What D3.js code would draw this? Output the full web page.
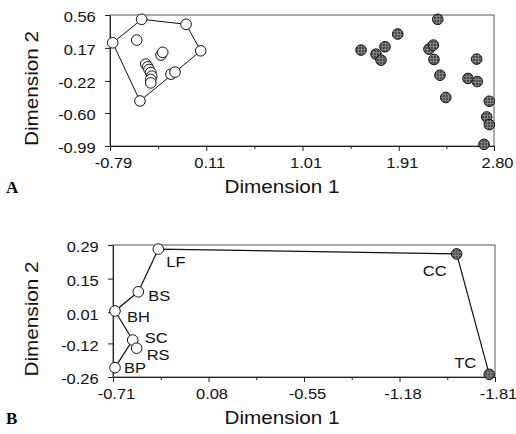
<!DOCTYPE html>
<html>
<head>
<meta charset="utf-8">
<script src="https://cdn.jsdelivr.net/npm/d3@7"></script>
<style>
  body { margin: 0; background: #fff; }
  svg { display: block; }
  .tick text { font-family: "Liberation Sans", Arial, sans-serif; font-size: 15px; fill: #111; }
  .domain { stroke: #222; }
  .tick line { stroke: #222; }
</style>
</head>
<body>
<div id="chart"></div>
<script>
// Panel A: two groups of points (open = clustered group, filled = second group)
const openA = [
  [-0.765, 0.231], [-0.494, 0.509], [-0.079, 0.450], [0.058, 0.136],
  [-0.220, -0.140], [-0.182, -0.116], [-0.510, -0.457], [-0.540, 0.263],
  [-0.313, 0.086], [-0.297, 0.118],
  [-0.456, -0.021], [-0.437, -0.053], [-0.425, -0.084], [-0.409, -0.120],
  [-0.400, -0.164], [-0.409, -0.203], [-0.409, -0.243]
];
const filledA = [
  [2.274, 0.509], [1.900, 0.335], [1.557, 0.145], [1.697, 0.097],
  [1.781, 0.184], [1.744, 0.026], [2.192, 0.157], [2.233, 0.204],
  [2.239, 0.034], [2.295, -0.152], [2.349, -0.416], [2.638, 0.038],
  [2.557, -0.191], [2.644, -0.227], [2.756, -0.460], [2.732, -0.646],
  [2.756, -0.737], [2.707, -0.970]
];
const dim1TicksA = [-0.79, 0.11, 1.01, 1.91, 2.80];
const dim1LabelsA = ["-0.79", "0.11", "1.01", "1.91", "2.80"];
const dim2TicksA = [-0.99, -0.60, -0.22, 0.17, 0.56];
const dim2LabelsA = ["-0.99", "-0.60", "-0.22", "0.17", "0.56"];

// Panel B: sites
const sites = ["LF", "BS", "BH", "SC", "RS", "BP", "CC", "TC"];
const siteDim1 = [0.411, 0.543, 0.697, 0.580, 0.554, 0.697, -1.557, -1.772];
const siteDim2 = [0.273, 0.095, 0.015, -0.106, -0.140, -0.221, 0.253, -0.249];
const siteFilled = [false, false, false, false, false, false, true, true];
const outlineOrder = ["BP", "SC", "BH", "BS", "LF", "CC", "TC"];
const dim1TicksB = [0.71, 0.08, -0.55, -1.18, -1.81];
const dim1LabelsB = ["-0.71", "0.08", "-0.55", "-1.18", "-1.81"];
const dim2TicksB = [-0.26, -0.12, 0.01, 0.15, 0.29];
const dim2LabelsB = ["-0.26", "-0.12", "0.01", "0.15", "0.29"];

// label placement next to each site marker (px)
const labelPos = {
  LF: [8, 18, "start"], BS: [10, 9, "start"], BH: [12, 11, "start"],
  SC: [12, 3, "start"], RS: [10, 12, "start"], BP: [9, 5, "start"],
  CC: [-10, 22, "end"], TC: [-13, -6, "end"]
};

const W = 516, H = 434;
const stretch = 1.1;
const sans = "'Liberation Sans', Arial, sans-serif";

const svg = d3.select("#chart").append("svg")
  .attr("width", W).attr("height", H);

const defs = svg.append("defs");
const pat = defs.append("pattern")
  .attr("id", "hatch").attr("patternUnits", "userSpaceOnUse")
  .attr("width", 3).attr("height", 3);
pat.append("rect").attr("width", 3).attr("height", 3).attr("fill", "#4a4a4a");
pat.append("path").attr("d", "M0,1.5H3M1.5,0V3").attr("stroke", "#8a8a8a").attr("stroke-width", 0.8);

function midpoints(v) {
  let m = [];
  for (let i = 0; i < v.length - 1; i++) m.push((v[i] + v[i + 1]) / 2);
  return m;
}

// draw frame, axes and titles for one panel; returns scales
function panel(box, xDom, yDom, xt, xl, yt, yl, letter) {
  let x = d3.scaleLinear().domain(xDom).range([box.left, box.right]);
  let y = d3.scaleLinear().domain(yDom).range([box.bottom, box.top]);

  // box
  svg.append("rect")
    .attr("x", box.left).attr("y", box.top)
    .attr("width", box.right - box.left).attr("height", box.bottom - box.top)
    .attr("fill", "none").attr("stroke", "#555").attr("stroke-width", 1);

  // minor ticks
  svg.append("g")
    .attr("transform", "translate(0," + box.bottom + ")")
    .call(d3.axisBottom(x).tickValues(midpoints(xt)).tickSize(3).tickFormat(""))
    .call(g => g.select(".domain").remove());

  let gx = svg.append("g")
    .attr("transform", "translate(0," + box.bottom + ")")
    .call(d3.axisBottom(x).tickValues(xt).tickSize(5).tickSizeOuter(0).tickPadding(6)
      .tickFormat((d, i) => xl[i]));
  gx.selectAll(".tick text").attr("transform", "translate(3,0) scale(" + stretch + ",1)");

  let gy = svg.append("g")
    .attr("transform", "translate(" + box.left + ",0)")
    .call(d3.axisLeft(y).tickValues(yt).tickSize(5).tickSizeOuter(0).tickPadding(8)
      .tickFormat((d, i) => yl[i]));
  gy.selectAll(".tick text").attr("transform", "translate(0,2) scale(" + stretch + ",1)");

  // titles
  svg.append("text")
    .attr("transform", "translate(282," + (box.bottom + 47) + ") scale(1.15,1)")
    .attr("text-anchor", "middle")
    .attr("font-family", sans).attr("font-size", 18).attr("fill", "#111")
    .text("Dimension 1");
  svg.append("text")
    .attr("transform", "translate(38," + ((box.top + box.bottom) / 2 + 8) + ") rotate(-90) scale(1.15,1)")
    .attr("text-anchor", "middle")
    .attr("font-family", sans).attr("font-size", 18).attr("fill", "#111")
    .text("Dimension 2");
  svg.append("text")
    .attr("x", 6).attr("y", box.bottom + 47)
    .attr("font-family", "'Liberation Serif', 'Times New Roman', serif")
    .attr("font-weight", "bold").attr("font-size", 17).attr("fill", "#000")
    .text(letter);

  return { x, y };
}

// ---- Panel A ----
let A = panel({ left: 110, right: 494, top: 15, bottom: 146 },
  [-0.79, 2.80], [-0.99, 0.56], dim1TicksA, dim1LabelsA, dim2TicksA, dim2LabelsA, "A");

let hull = d3.polygonHull(openA.map(d => [A.x(d[0]), A.y(d[1])]));
svg.append("path")
  .attr("d", "M" + hull.join("L") + "Z")
  .attr("fill", "none").attr("stroke", "#111").attr("stroke-width", 1);

svg.append("g").selectAll("circle")
  .data(openA)
  .enter()
  .append("circle")
  .attr("cx", d => A.x(d[0]))
  .attr("cy", d => A.y(d[1]))
  .attr("r", 5.3)
  .attr("fill", "#fff").attr("stroke", "#111").attr("stroke-width", 1);

svg.append("g").selectAll("circle")
  .data(filledA)
  .enter()
  .append("circle")
  .attr("cx", d => A.x(d[0]))
  .attr("cy", d => A.y(d[1]))
  .attr("r", 5.3)
  .attr("fill", "url(#hatch)").attr("stroke", "#111").attr("stroke-width", 1);

// ---- Panel B ----
let B = panel({ left: 113, right: 495, top: 245, bottom: 377 },
  [0.71, -1.81], [-0.26, 0.29], dim1TicksB, dim1LabelsB, dim2TicksB, dim2LabelsB, "B");

let siteData = sites.map((s, i) => ({ name: s, d1: siteDim1[i], d2: siteDim2[i], filled: siteFilled[i] }));
let byName = {};
siteData.forEach(d => byName[d.name] = d);

svg.append("path")
  .datum(outlineOrder.map(n => byName[n]))
  .attr("d", d3.line().x(d => B.x(d.d1)).y(d => B.y(d.d2)))
  .attr("fill", "none").attr("stroke", "#111").attr("stroke-width", 1.2);

let site = svg.append("g").selectAll("g")
  .data(siteData)
  .enter()
  .append("g")
  .attr("transform", d => "translate(" + B.x(d.d1) + "," + B.y(d.d2) + ")");

site.append("circle")
  .attr("r", 5.3)
  .attr("fill", d => d.filled ? "url(#hatch)" : "#fff")
  .attr("stroke", "#111").attr("stroke-width", 1);

site.append("text")
  .attr("transform", d => "translate(" + labelPos[d.name][0] + "," + labelPos[d.name][1] + ") scale(" + stretch + ",1)")
  .attr("text-anchor", d => labelPos[d.name][2])
  .attr("font-family", sans).attr("font-size", 15).attr("fill", "#111")
  .text(d => d.name);
</script>
</body>
</html>
